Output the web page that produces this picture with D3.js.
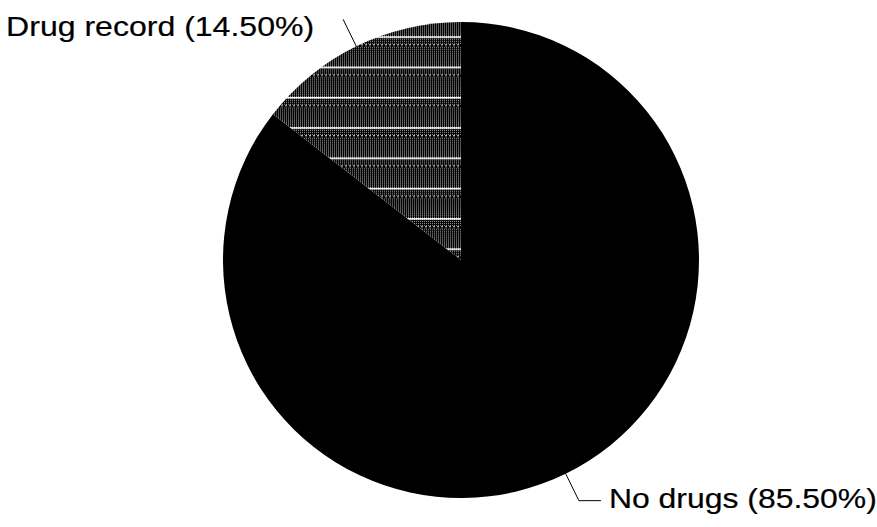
<!DOCTYPE html>
<html>
<head>
<meta charset="utf-8">
<script src="https://cdn.jsdelivr.net/npm/d3@7"></script>
<style>
  body { margin: 0; background: #fff; }
  text { font-family: "Liberation Sans", Arial, sans-serif; }
</style>
</head>
<body>
<div id="chart"></div>
<script>
// data
var labels = ["No drugs", "Drug record"];
var values = [85.5, 14.5];
var fills = ["#000", "url(#stripes)"];

var width = 877, height = 527;
var cx = 461, cy = 260, r = 238;

var svg = d3.select("#chart")
  .append("svg")
    .attr("width", width)
    .attr("height", height);

// halftone grey with white rules, like the scanned original
var defs = svg.append("defs");
var dots = defs.append("pattern")
  .attr("id", "dots")
  .attr("patternUnits", "userSpaceOnUse")
  .attr("width", 2).attr("height", 2);
dots.append("rect").attr("width", 2).attr("height", 2).attr("fill", "#000");
dots.append("rect").attr("x", 1).attr("y", 1).attr("width", 1).attr("height", 1).attr("fill", "#b4b4b4");

var speck = defs.append("pattern")
  .attr("id", "speck")
  .attr("patternUnits", "userSpaceOnUse")
  .attr("width", 4).attr("height", 2);
speck.append("rect").attr("width", 4).attr("height", 2).attr("fill", "#000");
speck.append("rect").attr("width", 2).attr("height", 1).attr("fill", "#ddd");

var stripes = defs.append("pattern")
  .attr("id", "stripes")
  .attr("patternUnits", "userSpaceOnUse")
  .attr("y", 49 % 30.3)
  .attr("width", 8).attr("height", 30.3);
stripes.append("rect").attr("width", 8).attr("height", 30.3).attr("fill", "url(#dots)");
stripes.append("rect").attr("y", -0.2).attr("width", 8).attr("height", 1.8).attr("fill", "#fff");
stripes.append("rect").attr("y", 8).attr("width", 8).attr("height", 2).attr("fill", "url(#speck)");

var pie = d3.pie().sort(null).value(function(d) { return d; });
var arcs = pie(values);

var arc = d3.arc().innerRadius(0).outerRadius(r);

var g = svg.append("g")
  .attr("transform", "translate(" + cx + "," + cy + ")");

g.selectAll("path")
  .data(arcs)
  .enter().append("path")
    .attr("d", arc)
    .attr("fill", function(d, i) { return fills[i]; });

// leader lines and labels
function edge(a, rad) {
  var m = (a.startAngle + a.endAngle) / 2;
  return [rad * Math.sin(m), -rad * Math.cos(m)];
}

arcs.forEach(function(a, i) {
  var p0 = edge(a, r), p1 = edge(a, r + 30);
  var txt = labels[i] + " (" + d3.format(".2f")(values[i]) + "%)";
  var t;
  if (p1[0] > 0) {
    g.append("polyline")
      .attr("points", [p0, p1, [p1[0] + 22, p1[1]]].map(String).join(" "))
      .attr("fill", "none").attr("stroke", "#000").attr("stroke-width", 1);
    t = g.append("text")
      .attr("x", p1[0] + 30).attr("y", p1[1] + 7)
      .attr("textLength", 268);
  } else {
    g.append("line")
      .attr("x1", p0[0]).attr("y1", p0[1])
      .attr("x2", p1[0]).attr("y2", p1[1])
      .attr("stroke", "#000").attr("stroke-width", 1);
    t = g.append("text")
      .attr("x", p1[0] - 29 - 308).attr("y", p1[1] + 17)
      .attr("textLength", 308);
  }
  t.attr("font-size", 27)
    .attr("lengthAdjust", "spacingAndGlyphs")
    .attr("stroke", "#000").attr("stroke-width", 0.2)
    .text(txt);
});
</script>
</body>
</html>
